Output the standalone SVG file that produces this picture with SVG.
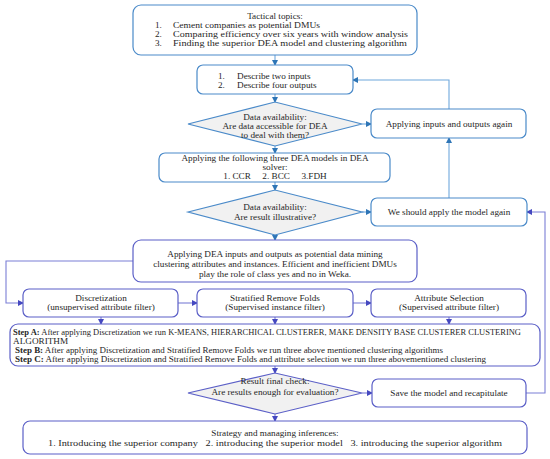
<svg xmlns="http://www.w3.org/2000/svg" width="550" height="459" viewBox="0 0 550 459">
<defs>
<style>
text{font-family:"Liberation Serif","Times New Roman",serif;fill:#262626;font-size:9.2px}
.c{text-anchor:middle}
.b{font-weight:bold}
.ub{fill:#fff;stroke:#4a8ac9;stroke-width:1.2}
.lb{fill:#fff;stroke:#5b5fc7;stroke-width:1.2}
.dm{fill:#f1f1f1;stroke:#4a8ac9;stroke-width:1.2}
.dl{fill:#f1f1f1;stroke:#5b5fc7;stroke-width:1.2}
.ul{fill:none;stroke:#6fa8dc;stroke-width:1.1}
.ll{fill:none;stroke:#7b7fd6;stroke-width:1.1}
</style>
<marker id="au" markerWidth="6" markerHeight="6" refX="5" refY="3" orient="auto" markerUnits="userSpaceOnUse"><path d="M0,0 L6,3 L0,6 z" fill="#2e75b6"/></marker>
<marker id="al" markerWidth="6" markerHeight="6" refX="5" refY="3" orient="auto" markerUnits="userSpaceOnUse"><path d="M0,0 L6,3 L0,6 z" fill="#4548c0"/></marker>
</defs>
<rect width="550" height="459" fill="#fff"/>

<g id="connectors">
<path class="ul" d="M275,55 V65" marker-end="url(#au)"/>
<path class="ul" d="M275,94 V102" marker-end="url(#au)"/>
<path class="ul" d="M275,146 V153" marker-end="url(#au)"/>
<path class="ul" d="M275,182 V190" marker-end="url(#au)"/>
<path class="ul" d="M275,235 V240" marker-end="url(#au)"/>
<path class="ul" d="M362,124 H371" marker-end="url(#au)"/>
<path class="ul" d="M449,109 V80 H353" marker-end="url(#au)"/>
<path class="ul" d="M362,212 H371" marker-end="url(#au)"/>
<path class="ul" d="M449,198 V138" marker-end="url(#au)"/>
<path class="ll" d="M133,261 H6 V303 H23" marker-end="url(#al)"/>
<path class="ll" d="M178,303 H197" marker-end="url(#al)"/>
<path class="ll" d="M353,303 H371" marker-end="url(#al)"/>
<path class="ll" d="M101,317 V324" marker-end="url(#al)"/>
<path class="ll" d="M275,317 V324" marker-end="url(#al)"/>
<path class="ll" d="M449,317 V324" marker-end="url(#al)"/>
<path class="ll" d="M275,366 V373" marker-end="url(#al)"/>
<path class="ll" d="M362,393 H372" marker-end="url(#al)"/>
<path class="ll" d="M526,393 H545 V212 H527" marker-end="url(#al)"/>
<path class="ll" d="M275,414 V421" marker-end="url(#al)"/>
</g>

<g id="tactical">
<rect class="ub" x="133" y="5" width="284" height="50" rx="8"/>
<text class="c" x="275" y="19">Tactical topics:</text>
<text x="155" y="28">1.</text><text x="173" y="28" textLength="147" lengthAdjust="spacingAndGlyphs">Cement companies as potential DMUs</text>
<text x="155" y="37">2.</text><text x="173" y="37" textLength="235" lengthAdjust="spacingAndGlyphs">Comparing efficiency over six years with window analysis</text>
<text x="155" y="46">3.</text><text x="173" y="46" textLength="234" lengthAdjust="spacingAndGlyphs">Finding the superior DEA model and clustering algorithm</text>
</g>

<g id="describe">
<rect class="ub" x="197" y="65" width="156" height="29" rx="6"/>
<text x="218" y="79">1.</text><text x="237" y="79">Describe two inputs</text>
<text x="218" y="88">2.</text><text x="237" y="88">Describe four outputs</text>
</g>

<g id="availability1">
<polygon class="dm" points="188,124 275,102 362,124 275,146"/>
<text class="c" x="275" y="120">Data availability:</text>
<text class="c" x="275" y="129">Are data accessible for DEA</text>
<text class="c" x="275" y="138">to deal with them?</text>
</g>

<g id="applyagain">
<rect class="ub" x="371" y="109" width="155" height="29" rx="6"/>
<text class="c" x="449" y="127">Applying inputs and outputs again</text>
</g>

<g id="models">
<rect class="ub" x="159" y="153" width="231" height="29" rx="6"/>
<text class="c" x="275" y="161">Applying the following three DEA models in DEA</text>
<text class="c" x="275" y="170">solver:</text>
<text class="c" x="275" y="179" xml:space="preserve">1. CCR     2. BCC     3.FDH</text>
</g>

<g id="availability2">
<polygon class="dm" points="188,212 275,190 362,212 275,235"/>
<text class="c" x="275" y="210">Data availability:</text>
<text class="c" x="275" y="220">Are result illustrative?</text>
</g>

<g id="modelagain">
<rect class="ub" x="371" y="198" width="156" height="28" rx="6"/>
<text class="c" x="449" y="215">We should apply the model again</text>
</g>

<g id="datamining">
<rect class="lb" x="133" y="240" width="284" height="42" rx="8"/>
<text class="c" x="275" y="257">Applying DEA inputs and outputs as potential data mining</text>
<text class="c" x="275" y="267">clustering attributes and instances. Efficient and inefficient DMUs</text>
<text class="c" x="275" y="277">play the role of class yes and no in Weka.</text>
</g>

<g id="discretization">
<rect class="lb" x="23" y="289" width="155" height="28" rx="6"/>
<text class="c" x="101" y="301">Discretization</text>
<text class="c" x="101" y="310">(unsupervised attribute filter)</text>
</g>

<g id="stratified">
<rect class="lb" x="197" y="289" width="156" height="28" rx="6"/>
<text class="c" x="275" y="301">Stratified Remove Folds</text>
<text class="c" x="275" y="310">(Supervised instance filter)</text>
</g>

<g id="attribute">
<rect class="lb" x="371" y="289" width="155" height="28" rx="6"/>
<text class="c" x="449" y="301">Attribute Selection</text>
<text class="c" x="449" y="310">(Supervised attribute filter)</text>
</g>

<g id="steps" style="font-size:7.6px">
<rect class="lb" x="10" y="324" width="530" height="42" rx="8"/>
<text x="13" y="335" textLength="508" lengthAdjust="spacingAndGlyphs"><tspan class="b">Step A:</tspan> After applying Discretization we run K-MEANS, HIERARCHICAL CLUSTERER, MAKE DENSITY BASE CLUSTERER CLUSTERING</text>
<text x="13" y="344">ALGORITHM</text>
<text x="15" y="353" textLength="428" lengthAdjust="spacingAndGlyphs"><tspan class="b">Step B:</tspan> After applying Discretization and Stratified Remove Folds we run three above mentioned clustering algorithms</text>
<text x="15" y="362" textLength="471" lengthAdjust="spacingAndGlyphs"><tspan class="b">Step C:</tspan> After applying Discretization and Stratified Remove Folds and attribute selection we run three abovementioned clustering</text>
</g>

<g id="finalcheck">
<polygon class="dl" points="188,393 275,373 362,393 275,414"/>
<text class="c" x="275" y="384">Result final check:</text>
<text class="c" x="275" y="395">Are results enough for evaluation?</text>
</g>

<g id="save">
<rect class="lb" x="372" y="379" width="154" height="28" rx="6"/>
<text class="c" x="449" y="396">Save the model and recapitulate</text>
</g>

<g id="strategy">
<rect class="lb" x="23" y="421" width="504" height="33" rx="7"/>
<text class="c" x="275" y="436">Strategy and managing inferences:</text>
<text class="c" x="275" y="446" xml:space="preserve" textLength="454" lengthAdjust="spacingAndGlyphs">1. Introducing the superior company   2. introducing the superior model   3. introducing the superior algorithm</text>
</g>
</svg>
